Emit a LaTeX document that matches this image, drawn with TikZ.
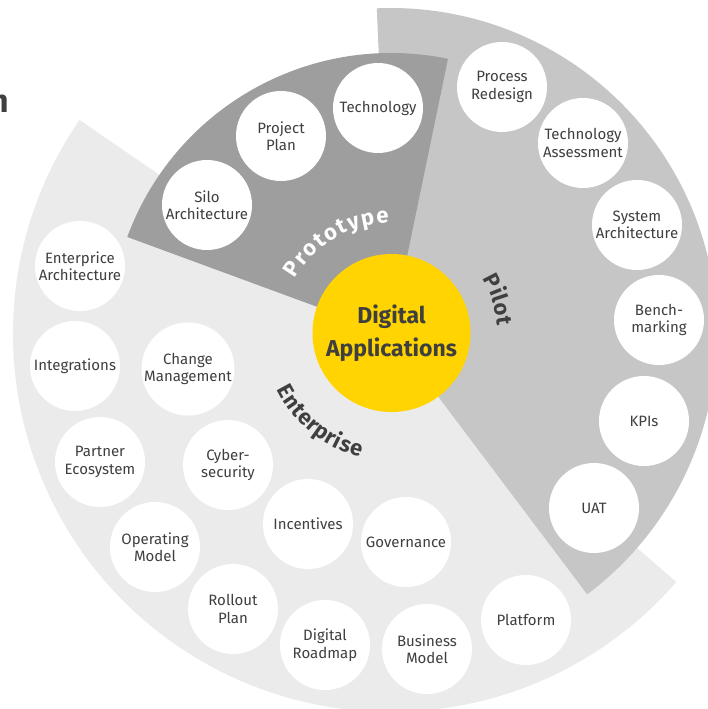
\documentclass[tikz,border=0pt]{standalone}
\usepackage{fontspec}
\setmainfont{Fira Sans}
\usepackage{xcolor}
\usepackage{tikz}
\usetikzlibrary{decorations.text}

\definecolor{entgrey}{HTML}{EBEBEB}
\definecolor{pilotgrey}{HTML}{C5C6C5}
\definecolor{protogrey}{HTML}{9D9E9D}
\definecolor{digyellow}{HTML}{FFD400}
\definecolor{txtgrey}{HTML}{3F3F3F}

\begin{document}
\begin{tikzpicture}[x=1pt, y=1pt,
% common options for the white circles:
bubble/.style = {circle, fill=white, align=center, minimum size=90pt,
            inner sep=0, text=txtgrey, font=\fontsize{15}{17.5}\selectfont},
% common options for the ring labels:
ringlabel/.style = {decorate, decoration={text along path, text align={fit to path},
            text color=#1}}]
\useasboundingbox (-391,-375) rectangle (316,334);
% the three rings
\fill[entgrey] (0,0) -- (145.5:378) arc[start angle=145.5, end angle=319, radius=378] -- cycle;
\fill[pilotgrey] (0,0) -- (-53:326) arc[start angle=-53, end angle=92.5, radius=326] -- cycle;
\fill[protogrey] (0,0) -- (78.3:281) arc[start angle=78.3, end angle=159.8, radius=281] -- cycle;
\node[anchor=base east, inner sep=0, text=txtgrey, font=\bfseries\fontsize{32}{32}\selectfont] (T0) at (-382,221) {n};
\node[circle, fill=digyellow, minimum size=158pt, inner sep=0, align=center, text=txtgrey,
      font=\bfseries\fontsize{23}{33}\selectfont] (C0) at (0.5,1) {Digital\\Applications};
% Prototype
\node[bubble] (P1) at (-184,129) {Silo\\Architecture};
\node[bubble] (P2) at (-110,198) {Project\\Plan};
\node[bubble] (P3) at (-13,226) {Technology};
% Pilot
\node[bubble] (L1) at (111,247) {Process\\Redesign};
\node[bubble] (L2) at (192,191) {Technology\\Assessment};
\node[bubble] (L3) at (246,109) {System\\Architecture};
\node[bubble] (L4) at (268,14) {Bench-\\marking};
\node[bubble] (L5) at (253,-87) {KPIs};
\node[bubble] (L6) at (203,-174) {UAT};
% Enterprise
\node[bubble] (E1) at (-311,68) {Enterprice\\Architecture};
\node[bubble] (E2) at (-316,-32) {Integrations};
\node[bubble] (E3) at (-203,-35) {Change\\Management};
\node[bubble] (E4) at (-291,-128) {Partner\\Ecosystem};
\node[bubble] (E5) at (-163,-131) {Cyber-\\security};
\node[bubble] (E6) at (-236,-213) {Operating\\Model};
\node[bubble] (E7) at (-83,-190) {Incentives};
\node[bubble] (E8) at (15,-208) {Governance};
\node[bubble] (E9) at (-158,-275) {Rollout\\Plan};
\node[bubble] (E10) at (-66,-311) {Digital\\Roadmap};
\node[bubble] (E11) at (36,-315) {Business\\Model};
\node[bubble] (E12) at (135,-286) {Platform};
% ring labels
\path[ringlabel=white, decoration={text={|\bfseries\fontsize{22}{22}\selectfont|Prototype}}]
  (150:111) arc[start angle=150, end angle=91, radius=111];
\path[ringlabel=txtgrey, decoration={text={|\bfseries\fontsize{22}{22}\selectfont|Pilot}}]
  (31:107) arc[start angle=31, end angle=4.5, radius=107];
\path[ringlabel=txtgrey, decoration={text={|\bfseries\fontsize{22}{22}\selectfont|Enterprise}}]
  (206:127) arc[start angle=206, end angle=256, radius=127];
\end{tikzpicture}
\end{document}
